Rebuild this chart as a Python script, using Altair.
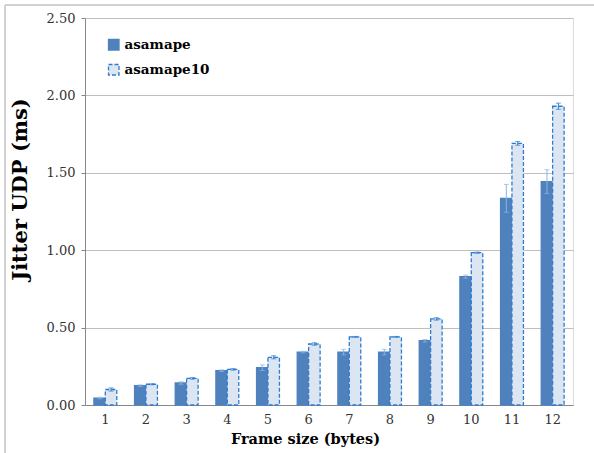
import altair as alt
import pandas as pd

frames = ["1", "2", "3", "4", "5", "6", "7", "8", "9", "10", "11", "12"]
asamape = [0.045, 0.125, 0.142, 0.222, 0.241, 0.342, 0.342, 0.342, 0.415, 0.829, 1.335, 1.443]
asamape_err = [0.005, 0.005, 0.008, 0.005, 0.018, 0.005, 0.018, 0.018, 0.008, 0.01, 0.09, 0.077]
asamape10 = [0.100, 0.134, 0.172, 0.230, 0.308, 0.394, 0.440, 0.440, 0.556, 0.984, 1.690, 1.930]
asamape10_err = [0.01, 0.003, 0.005, 0.005, 0.01, 0.008, 0.003, 0.003, 0.008, 0.004, 0.012, 0.02]
series = ["asamape", "asamape10"]

rows = []
for i, f in enumerate(frames):
    rows.append({"frame": f, "series": series[0], "value": asamape[i], "err": asamape_err[i]})
    rows.append({"frame": f, "series": series[1], "value": asamape10[i], "err": asamape10_err[i]})
df = pd.DataFrame(rows)
df["lo"] = df["value"] - df["err"]
df["hi"] = df["value"] + df["err"]

FONT = "DejaVu Serif"

x_enc = alt.X("frame:N", sort=frames,
              scale=alt.Scale(paddingInner=0.44, paddingOuter=0.22),
              axis=alt.Axis(title="Frame size (bytes)", labelAngle=0, ticks=False,
                            domainColor="#888888", labelFont=FONT, labelFontSize=13,
                            labelColor="#333333", labelPadding=8,
                            titleFont=FONT, titleFontSize=14.5, titleFontWeight="bold",
                            titleColor="#000000", titlePadding=6, titleX=220, grid=False))
y_scale = alt.Scale(domain=[0, 2.5])
y_axis = alt.Axis(title="Jitter UDP (ms)", values=[0, 0.5, 1.0, 1.5, 2.0, 2.5], format=".2f",
                  grid=True, gridColor="#BFBFBF", domainColor="#888888",
                  tickColor="#888888", tickSize=4, labelFont=FONT, labelFontSize=13,
                  labelColor="#333333", labelPadding=6,
                  titleFont=FONT, titleFontSize=21, titleFontWeight="bold",
                  titleColor="#000000", titlePadding=16, titleY=171)
xoff = alt.XOffset("series:N", sort=series, scale=alt.Scale(paddingInner=0, paddingOuter=0))

bars = alt.Chart(df).mark_bar(strokeWidth=1.3, size=11.5).encode(
    x=x_enc,
    xOffset=xoff,
    y=alt.Y("value:Q", scale=y_scale, axis=y_axis),
    fill=alt.Fill("series:N", sort=series,
                  scale=alt.Scale(domain=series, range=["#4F81BD", "#DCE6F2"]),
                  legend=alt.Legend(title=None, orient="none", legendX=22, legendY=20,
                                    symbolType="square", symbolSize=110,
                                    labelFont=FONT, labelFontSize=13.5, labelFontWeight="bold",
                                    labelColor="#000000", rowPadding=8, symbolStrokeWidth=1.3)),
    stroke=alt.Stroke("series:N", sort=series,
                      scale=alt.Scale(domain=series, range=["#4F81BD", "#2E7BD0"]),
                      legend=alt.Legend(title=None, orient="none", legendX=22, legendY=20)),
    strokeDash=alt.StrokeDash("series:N", sort=series,
                              scale=alt.Scale(domain=series, range=[[1, 0], [4, 2]]),
                              legend=alt.Legend(title=None, orient="none", legendX=22, legendY=20)),
)

def err_layers(name, color):
    base = alt.Chart(df).transform_filter(alt.datum.series == name)
    rule = base.mark_rule(color=color, strokeWidth=1).encode(
        x=alt.X("frame:N", sort=frames), xOffset=xoff,
        y=alt.Y("lo:Q", scale=y_scale), y2="hi:Q")
    cap_hi = base.mark_tick(color=color, thickness=1, size=5, orient="horizontal").encode(
        x=alt.X("frame:N", sort=frames), xOffset=xoff, y=alt.Y("hi:Q", scale=y_scale))
    cap_lo = base.mark_tick(color=color, thickness=1, size=5, orient="horizontal").encode(
        x=alt.X("frame:N", sort=frames), xOffset=xoff, y=alt.Y("lo:Q", scale=y_scale))
    return [rule, cap_hi, cap_lo]

border_left = alt.Chart(df).mark_rule(stroke="#D0D0D0", strokeWidth=1.5).encode(
    x=alt.value(-80), y=alt.value(-13), y2=alt.value(460))
border_top = alt.Chart(df).mark_rule(stroke="#D0D0D0", strokeWidth=1.5).encode(
    x=alt.value(-80), x2=alt.value(530), y=alt.value(-13))

chart = alt.layer(
    border_left, border_top, bars,
    *err_layers("asamape", "#8DB3E2"),
    *err_layers("asamape10", "#2E7BD0"),
).properties(
    width=488, height=387,
    autosize=alt.AutoSizeParams(type="none"),
    padding={"left": 85, "top": 18, "right": 21, "bottom": 48},
).configure_view(stroke=None).configure(background="white")

chart.save("out.html", embed_options={"renderer": "svg", "actions": False})
